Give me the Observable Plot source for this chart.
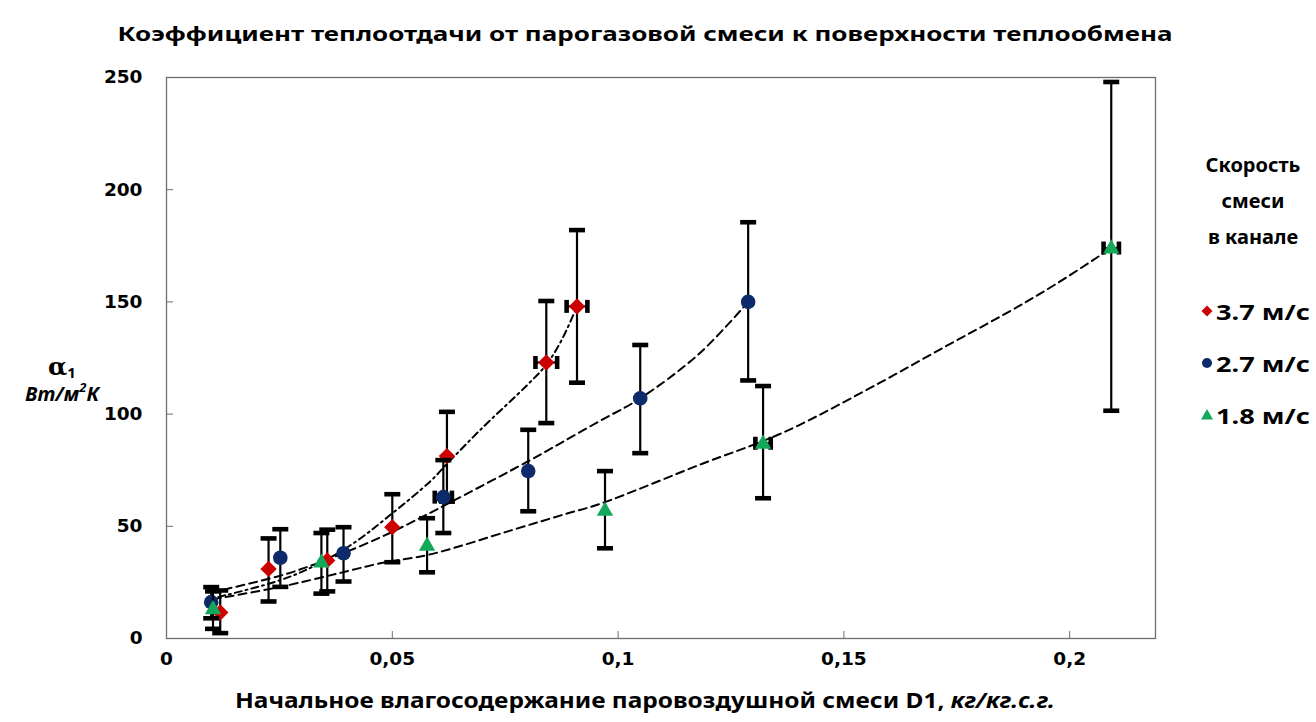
<!DOCTYPE html>
<html>
<head>
<meta charset="utf-8">
<script src="https://cdn.jsdelivr.net/npm/d3@7"></script>
<script src="https://cdn.jsdelivr.net/npm/@observablehq/plot@0.6"></script>
<style>
  body { margin: 0; background: #fff; }
  #chart svg { display: block; }
</style>
</head>
<body>
<div id="chart"></div>
<script>
// Series: mixture velocity in the channel
const seriesNames = ["3.7 м/с", "2.7 м/с", "1.8 м/с"];
const seriesColors = ["#cc0000", "#0d2a6b", "#14a85a"];

// 3.7 m/s — initial moisture content D1, heat-transfer coefficient, error limits
const redX  = [0.0119, 0.0226, 0.0356, 0.0500, 0.0621, 0.0841, 0.0909];
const redY  = [11.6, 31, 34.8, 49.6, 81.3, 123, 148];
const redLo = [2.4, 16.5, 21, 34, 61, 96, 114];
const redHi = [21.4, 44.6, 48.5, 64.3, 101, 150.4, 182];
const redDx = [0, 0, 0, 0, 0, 0.0024, 0.0023];

// 2.7 m/s
const blueX  = [0.0099, 0.0252, 0.0392, 0.0613, 0.0801, 0.1049, 0.1288];
const blueY  = [16.2, 36, 38, 63, 74.6, 107, 150];
const blueLo = [9, 23, 25.4, 47, 56.7, 82.6, 115];
const blueHi = [22.9, 48.7, 49.6, 79.5, 93, 130.8, 185.5];
const blueDx = [0, 0, 0, 0.0019, 0, 0, 0];

// 1.8 m/s
const greenX  = [0.0103, 0.0343, 0.0577, 0.0971, 0.1321, 0.2092];
const greenY  = [13.2, 34, 41.5, 57.1, 87, 174];
const greenLo = [4.3, 20, 29.5, 40.2, 62.5, 101.5];
const greenHi = [21, 47, 53.6, 74.6, 112.5, 248];
const greenDx = [0, 0, 0, 0, 0.0017, 0.0017];

// Trend curves drawn through each series
const trendRedX = [0.0115, 0.0252, 0.0334, 0.0418, 0.0489, 0.0584, 0.0622, 0.0695, 0.0799, 0.0841, 0.0875, 0.0909];
const trendRedY = [18.5, 26, 33, 43, 54, 70, 78, 93, 113, 122, 133, 148];
const trendBlueX = [0.0099, 0.0252, 0.0334, 0.0473, 0.0584, 0.0628, 0.0801, 0.0872, 0.0960, 0.1049, 0.1180, 0.1288];
const trendBlueY = [20.5, 28, 33.5, 45, 56, 60.6, 79, 87, 97, 107, 127, 150];
const trendGreenX = [0.0103, 0.0252, 0.0380, 0.0473, 0.0584, 0.0768, 0.0887, 0.0960, 0.1188, 0.1321, 0.1400, 0.1580, 0.1728, 0.1860, 0.1970, 0.2092];
const trendGreenY = [17.5, 23, 29, 33.5, 37.5, 48.5, 55.7, 60, 78, 88, 95, 114, 130.5, 145, 158, 174];

// Axes
const xTicks = [0, 0.05, 0.1, 0.15, 0.2];
const xTickLabels = ["0", "0,05", "0,1", "0,15", "0,2"];
const yTicks = [0, 50, 100, 150, 200, 250];

// ---- tables for the marks ----
function pointsOf(name, xs, ys, lo, hi, dx) {
  return xs.map((x, i) => ({series: name, x, y: ys[i], lo: lo[i], hi: hi[i], dx: dx[i], x1: x - dx[i], x2: x + dx[i]}));
}
const points = [
  ...pointsOf(seriesNames[0], redX, redY, redLo, redHi, redDx),
  ...pointsOf(seriesNames[1], blueX, blueY, blueLo, blueHi, blueDx),
  ...pointsOf(seriesNames[2], greenX, greenY, greenLo, greenHi, greenDx)
];
function curveOf(name, xs, ys) { return xs.map((x, i) => ({series: name, x, y: ys[i]})); }
const trendRed = curveOf(seriesNames[0], trendRedX, trendRedY);
const trendBlue = curveOf(seriesNames[1], trendBlueX, trendBlueY);
const trendGreen = curveOf(seriesNames[2], trendGreenX, trendGreenY);

// ---- custom symbols ----
const capH = {draw(ctx) { ctx.moveTo(-8, -2.3); ctx.lineTo(8, -2.3); ctx.lineTo(8, 2.3); ctx.lineTo(-8, 2.3); ctx.closePath(); }};
const capV = {draw(ctx) { ctx.moveTo(-2.3, -6.5); ctx.lineTo(2.3, -6.5); ctx.lineTo(2.3, 6.5); ctx.lineTo(-2.3, 6.5); ctx.closePath(); }};
const diamondSym = {draw(ctx, size) { const r = Math.sqrt(size / Math.PI) * 1.12; ctx.moveTo(0, -r); ctx.lineTo(r, 0); ctx.lineTo(0, r); ctx.lineTo(-r, 0); ctx.closePath(); }};
const circleSym = {draw(ctx, size) { const r = Math.sqrt(size / Math.PI); ctx.moveTo(r, 0); ctx.arc(0, 0, r, 0, 2 * Math.PI); ctx.closePath(); }};
const triangleSym = {draw(ctx, size) { const r = Math.sqrt(size / Math.PI) * 1.12; const h = r * Math.sqrt(3); ctx.moveTo(0, -h * 0.62); ctx.lineTo(r, h * 0.38); ctx.lineTo(-r, h * 0.38); ctx.closePath(); }};
const seriesSymbols = [diamondSym, circleSym, triangleSym];

function seriesMarks(i) {
  const data = points.filter(d => d.series === seriesNames[i]);
  const withDx = data.filter(d => d.dx > 0);
  return [
    Plot.ruleX(data, {x: "x", y1: "lo", y2: "hi", stroke: "#000", strokeWidth: 2.2}),
    Plot.ruleY(withDx, {y: "y", x1: "x1", x2: "x2", stroke: "#000", strokeWidth: 2.2}),
    Plot.dot(data, {x: "x", y: "lo", symbol: capH, fill: "#000", stroke: null}),
    Plot.dot(data, {x: "x", y: "hi", symbol: capH, fill: "#000", stroke: null}),
    Plot.dot(withDx, {x: "x1", y: "y", symbol: capV, fill: "#000", stroke: null}),
    Plot.dot(withDx, {x: "x2", y: "y", symbol: capV, fill: "#000", stroke: null}),
    Plot.dot(data, {x: "x", y: "y", symbol: seriesSymbols[i], r: 7.3, fill: seriesColors[i], stroke: null})
  ];
}

const W = 1316, H = 722;
const plot = Plot.plot({
  width: W,
  height: H,
  marginLeft: 166,
  marginRight: 161,
  marginTop: 77,
  marginBottom: 84,
  style: {fontFamily: "DejaVu Sans", fontSize: "18.5px", fontWeight: "bold", color: "#000", background: "#fff"},
  x: {domain: [0, 0.219]},
  y: {domain: [0, 250]},
  marks: [
    Plot.frame({stroke: "#6e6e6e", strokeWidth: 1.3}),
    Plot.axisX({ticks: xTicks, tickFormat: d => xTickLabels[xTicks.indexOf(d)], tickSize: -7, tickPadding: 20, label: null, fontWeight: "bold", stroke: "#6e6e6e"}),
    Plot.axisY({ticks: yTicks, tickSize: -7, tickPadding: 31, label: null, fontWeight: "bold", stroke: "#6e6e6e"}),
    Plot.line(trendRed, {x: "x", y: "y", curve: "catmull-rom", stroke: "#000", strokeWidth: 2, strokeDasharray: "7,4,2,4"}),
    Plot.line(trendBlue, {x: "x", y: "y", curve: "catmull-rom", stroke: "#000", strokeWidth: 2, strokeDasharray: "8,5"}),
    Plot.line(trendGreen, {x: "x", y: "y", curve: "catmull-rom", stroke: "#000", strokeWidth: 2, strokeDasharray: "8,5"}),
    ...seriesMarks(0),
    ...seriesMarks(1),
    ...seriesMarks(2)
  ]
});

document.getElementById("chart").append(plot);

// ---- titles, axis names and legend ----
const svg = d3.select(plot);
const textFont = "'Noto Sans', 'Open Sans', sans-serif";

function addText(str, x, y, size, width, anchor = "middle") {
  const t = svg.append("text")
    .attr("x", x).attr("y", y)
    .attr("text-anchor", anchor)
    .attr("dominant-baseline", "central")
    .attr("font-family", textFont)
    .attr("font-weight", "bold")
    .attr("font-size", size)
    .attr("fill", "#000");
  if (width) t.attr("textLength", width).attr("lengthAdjust", "spacingAndGlyphs");
  t.text(str);
  return t;
}

addText("Коэффициент теплоотдачи от парогазовой смеси к поверхности теплообмена", 645, 33, 19.5, 1055);

// x axis name, units in italics
const xt = svg.append("text")
  .attr("x", 645).attr("y", 700)
  .attr("text-anchor", "middle")
  .attr("dominant-baseline", "central")
  .attr("font-family", textFont)
  .attr("font-weight", "bold")
  .attr("font-size", 20.5)
  .attr("textLength", 820).attr("lengthAdjust", "spacingAndGlyphs");
xt.append("tspan").text("Начальное влагосодержание паровоздушной смеси D1, ");
xt.append("tspan").attr("font-style", "italic").text("кг/кг.с.г.");

// y axis name: alpha_1 over its units
const yt = svg.append("text")
  .attr("x", 62).attr("y", 366)
  .attr("text-anchor", "middle")
  .attr("dominant-baseline", "central");
yt.append("tspan").attr("font-family", "'DejaVu Serif', serif").attr("font-size", 25).text("α");
yt.append("tspan").attr("font-family", textFont).attr("font-weight", "bold").attr("font-size", 15).attr("dy", 6).text("1");
const yu = svg.append("text")
  .attr("x", 62).attr("y", 393)
  .attr("text-anchor", "middle")
  .attr("dominant-baseline", "central")
  .attr("font-family", textFont)
  .attr("font-weight", "bold")
  .attr("font-style", "italic")
  .attr("font-size", 20);
yu.append("tspan").text("Вт/м");
yu.append("tspan").attr("font-size", 13).attr("dy", -6).text("2");
yu.append("tspan").attr("dy", 6).text("К");

// legend
addText("Скорость", 1253, 164, 20);
addText("смеси", 1253, 200, 20);
addText("в канале", 1253, 236, 20);
const legendY = [311, 363, 415];
seriesNames.forEach((name, i) => {
  const g = svg.append("g").attr("transform", `translate(1207,${legendY[i]})`);
  if (i === 0) g.append("path").attr("d", "M0,-5.5L5.5,0L0,5.5L-5.5,0Z").attr("fill", seriesColors[i]);
  else if (i === 1) g.append("circle").attr("r", 5).attr("fill", seriesColors[i]);
  else g.append("path").attr("d", "M0,-6L6,4.5L-6,4.5Z").attr("fill", seriesColors[i]);
  addText(name, 1216, legendY[i], 22, 94, "start");
});
</script>
</body>
</html>
